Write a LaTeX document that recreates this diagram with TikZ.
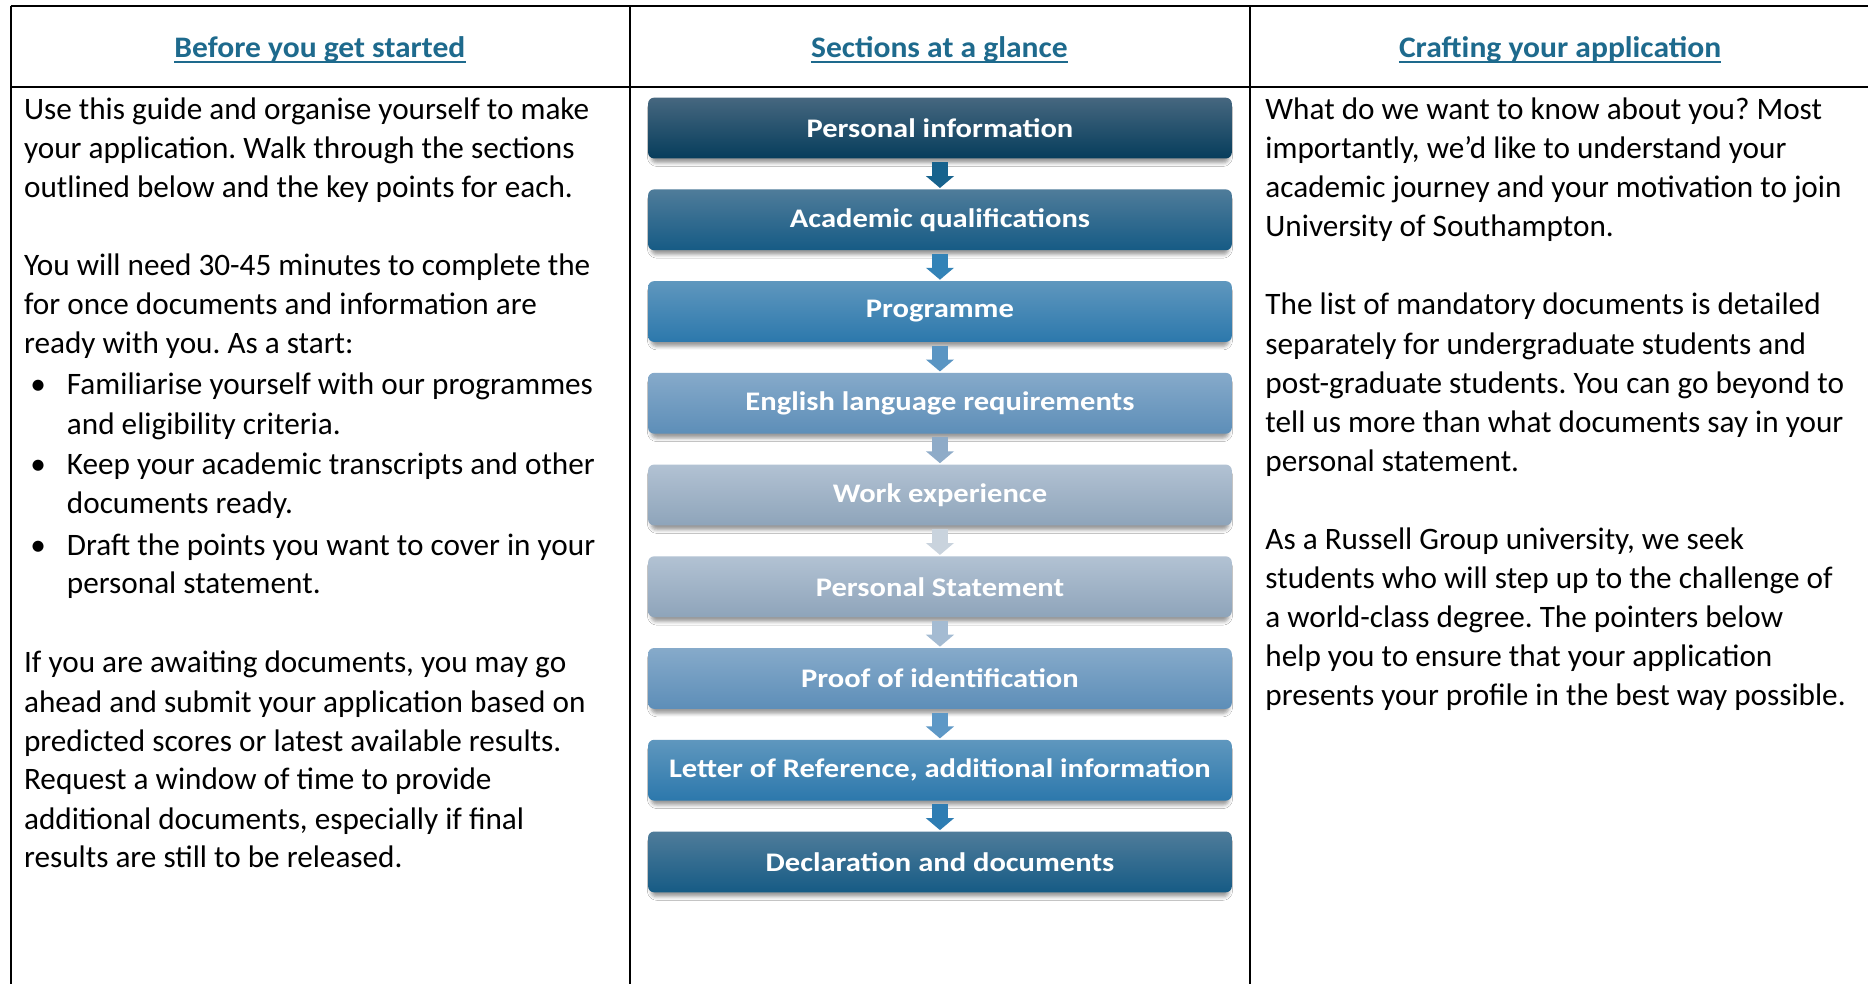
\documentclass[tikz,border=0pt]{standalone}
\usepackage{fontspec}
\setmainfont{Carlito}
\newfontfamily\boxfnt{Carlito}[FakeStretch=1.14]
\newfontfamily\hdrfnt{Carlito}[FakeStretch=1.06]
\usetikzlibrary{shadows.blur,arrows.meta}
\frenchspacing
\definecolor{hdrblue}{HTML}{1E6A8D}
\definecolor{bAt}{HTML}{46677F}\definecolor{bAm}{HTML}{0E4867}\definecolor{bAb}{HTML}{063D5C}
\definecolor{bBt}{HTML}{4F7C9A}\definecolor{bBm}{HTML}{1F6089}\definecolor{bBb}{HTML}{165B85}
\definecolor{bCt}{HTML}{5F97BE}\definecolor{bCm}{HTML}{3581B5}\definecolor{bCb}{HTML}{2C78AC}
\definecolor{bDt}{HTML}{86AACA}\definecolor{bDm}{HTML}{6A9AC2}\definecolor{bDb}{HTML}{5D8EB8}
\definecolor{bEt}{HTML}{B2C2D3}\definecolor{bEm}{HTML}{9FB3C7}\definecolor{bEb}{HTML}{8EA4BA}
\definecolor{a1}{HTML}{17628D}\definecolor{a2}{HTML}{3383B7}\definecolor{a3}{HTML}{5A95C3}
\definecolor{a4}{HTML}{8EABC8}\definecolor{a5}{HTML}{C9D3DD}\definecolor{a6}{HTML}{A4BBD2}
\definecolor{a7}{HTML}{5E98C6}\definecolor{a8}{HTML}{2E7DB3}
\tikzset{
  grid/.style={line width=2pt,black},
  hdr/.style={font=\hdrfnt\bfseries\fontsize{25}{29}\selectfont,text=hdrblue,anchor=base,inner sep=0pt},
  uline/.style={hdrblue,line width=1.4pt},
  bodytxt/.style={font=\fontsize{26.2}{32.7}\selectfont,anchor=mid west,inner sep=0pt,text=black},
  bul/.style={font=\fontsize{26.2}{32.7}\selectfont,anchor=mid,inner sep=0pt},
  stepbox/.style={rounded corners=5pt,minimum width=490pt,minimum height=51pt,inner sep=0pt,
    font=\boxfnt\bfseries\fontsize{22.5}{26}\selectfont,text=white,
    blur shadow={shadow xshift=0pt,shadow yshift=-4pt,shadow scale=0.99,shadow blur radius=3pt,shadow opacity=40}},
  sA/.style={stepbox,top color=bAt,middle color=bAm,bottom color=bAb},
  sB/.style={stepbox,top color=bBt,middle color=bBm,bottom color=bBb},
  sC/.style={stepbox,top color=bCt,middle color=bCm,bottom color=bCb},
  sD/.style={stepbox,top color=bDt,middle color=bDm,bottom color=bDb},
  sE/.style={stepbox,top color=bEt,middle color=bEm,bottom color=bEb},
  arr/.style={line width=14pt,-{Triangle[width=23pt,length=10pt]}},
}
\begin{document}
\begin{tikzpicture}[x=1pt,y=-1pt]
\useasboundingbox[fill=white] (0,0) rectangle (1568,826);
% table grid
\coordinate (tl) at (9,5);
\coordinate (tr) at (1568,5);
\coordinate (ml) at (9,73);
\coordinate (mr) at (1568,73);
\coordinate (bl) at (9,826);
\coordinate (d1t) at (529,5);
\coordinate (d1b) at (529,826);
\coordinate (d2t) at (1049,5);
\coordinate (d2b) at (1049,826);
\draw[grid] (tl) -- (tr);
\draw[grid] (ml) -- (mr);
\draw[grid] (tl) -- (bl);
\draw[grid] (d1t) -- (d1b);
\draw[grid] (d2t) -- (d2b);
% headers
\node[hdr] (h1) at (268.5,48.5) {Before you get started};
\node[hdr] (h2) at (788.5,48.5) {Sections at a glance};
\node[hdr] (h3) at (1309.5,48.5) {Crafting your application};
\foreach \h in {h1,h2,h3}{\draw[uline] ([yshift=-3.5pt]\h.base west) -- ([yshift=-3.5pt]\h.base east);}
% left column
\foreach \yy/\t [count=\i] in {
  98/{Use this guide and organise yourself to make},
  131/{your application. Walk through the sections},
  163/{outlined below and the key points for each.},
  229/{You will need 30-45 minutes to complete the},
  262/{for once documents and information are},
  294/{ready with you. As a start:},
  562.5/{If you are awaiting documents, you may go},
  595.5/{ahead and submit your application based on},
  628/{predicted scores or latest available results.},
  660.5/{Request a window of time to provide},
  693.5/{additional documents, especially if final},
  726/{results are still to be released.}}
  {\node[bodytxt] (L\i) at (20,\yy) {\t};}
\foreach \yy/\t [count=\i] in {
  329/{Familiarise yourself with our programmes},
  362/{and eligibility criteria.},
  396/{Keep your academic transcripts and other},
  429/{documents ready.},
  463.5/{Draft the points you want to cover in your},
  496/{personal statement.}}
  {\node[bodytxt] (P\i) at (56,\yy) {\t};}
\node[bul] (u1) at (32,329) {\textbullet};
\node[bul] (u2) at (32,396) {\textbullet};
\node[bul] (u3) at (32,463.5) {\textbullet};
% right column
\foreach \yy/\t [count=\i] in {
  98/{What do we want to know about you? Most},
  131/{importantly, we’d like to understand your},
  163/{academic journey and your motivation to join},
  196/{University of Southampton.},
  262/{The list of mandatory documents is detailed},
  295/{separately for undergraduate students and},
  327.5/{post-graduate students. You can go beyond to},
  360.5/{tell us more than what documents say in your},
  393/{personal statement.},
  459/{As a Russell Group university, we seek},
  492/{students who will step up to the challenge of},
  524.5/{a world-class degree. The pointers below},
  557/{help you to ensure that your application},
  590/{presents your profile in the best way possible.}}
  {\node[bodytxt] (R\i) at (1062,\yy) {\t};}
% step boxes
\node[sA] (b1) at (789,107.5) {Personal information};
\node[sB] (b2) at (789,184.5) {Academic qualifications};
\node[sC] (b3) at (789,261.5) {Programme};
\node[sD] (b4) at (789,338.5) {English language requirements};
\node[sE] (b5) at (789,415.5) {Work experience};
\node[sE] (b6) at (789,492.5) {Personal Statement};
\node[sD] (b7) at (789,569.5) {Proof of identification};
\node[sC] (b8) at (789,646.5) {Letter of Reference, additional information};
\node[sB] (b9) at (789,723.5) {Declaration and documents};
% arrows
\draw[arr,a1] ([yshift=-3pt]b1.south) -- ([yshift=1pt]b2.north);
\draw[arr,a2] ([yshift=-3pt]b2.south) -- ([yshift=1pt]b3.north);
\draw[arr,a3] ([yshift=-3pt]b3.south) -- ([yshift=1pt]b4.north);
\draw[arr,a4] ([yshift=-3pt]b4.south) -- ([yshift=1pt]b5.north);
\draw[arr,a5] ([yshift=-3pt]b5.south) -- ([yshift=1pt]b6.north);
\draw[arr,a6] ([yshift=-3pt]b6.south) -- ([yshift=1pt]b7.north);
\draw[arr,a7] ([yshift=-3pt]b7.south) -- ([yshift=1pt]b8.north);
\draw[arr,a8] ([yshift=-3pt]b8.south) -- ([yshift=1pt]b9.north);
\end{tikzpicture}
\end{document}
